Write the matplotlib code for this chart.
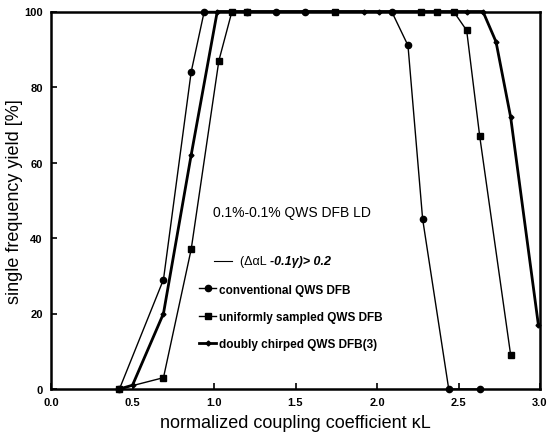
import matplotlib
matplotlib.use("Agg")
import matplotlib.pyplot as plt

plt.rcParams['font.family'] = ['Liberation Sans', 'DejaVu Sans']

# conventional QWS DFB
conv_x = [0.42, 0.69, 0.86, 0.94, 1.20, 1.38, 1.56, 2.09, 2.19, 2.28, 2.44, 2.63]
conv_y = [0, 29, 84, 100, 100, 100, 100, 100, 91, 45, 0, 0]
# uniformly sampled QWS DFB
unif_x = [0.42, 0.69, 0.86, 1.03, 1.11, 1.20, 1.74, 2.27, 2.37, 2.47, 2.55, 2.63, 2.82]
unif_y = [0, 3, 37, 87, 100, 100, 100, 100, 100, 100, 95, 67, 9]
# doubly chirped QWS DFB(3)
dc_x = [0.42, 0.50, 0.69, 0.86, 1.02, 1.92, 2.01, 2.55, 2.65, 2.73, 2.82, 2.99]
dc_y = [0, 1, 20, 62, 100, 100, 100, 100, 100, 92, 72, 17]

labels = ["conventional QWS DFB", "uniformly sampled QWS DFB", "doubly chirped QWS DFB(3)"]
xticks = [0.0, 0.5, 1.0, 1.5, 2.0, 2.5, 3.0]
yticks = [0, 20, 40, 60, 80, 100]

fig = plt.figure(figsize=(5.47, 4.39), dpi=100)
ax = fig.add_axes([51/547, 1 - 390/439, (540 - 51)/547, (390 - 12.5)/439])

l1, = ax.plot(conv_x, conv_y, color='black', lw=1.0, marker='o', ms=4.5, clip_on=False, zorder=3)
l2, = ax.plot(unif_x, unif_y, color='black', lw=1.0, marker='s', ms=5, clip_on=False, zorder=3)
l3, = ax.plot(dc_x, dc_y, color='black', lw=2.0, marker='D', ms=2.5, clip_on=False, zorder=3)

ax.set_xlim(0, 3.0)
ax.set_ylim(0, 100)
ax.set_xticks(xticks)
ax.set_yticks(yticks)
ax.set_xticklabels([f"{t:.1f}" for t in xticks], fontsize=8, fontweight='bold')
ax.set_yticklabels([str(t) for t in yticks], fontsize=8, fontweight='bold')
ax.tick_params(direction='in', length=4, width=1.2, pad=6)
for s in ax.spines.values():
    s.set_linewidth(1.8)

ax.set_xlabel("normalized coupling coefficient \u03baL", fontsize=13, labelpad=5)
ax.set_ylabel("single frequency yield [%]", fontsize=13, labelpad=1)

ax.text(213, 439 - 213, "0.1%-0.1% QWS DFB LD", transform=None, fontsize=10,
        ha='left', va='center')

# annotation line with text
ax.plot([1.0, 1.11], [34, 34], color='black', lw=0.8)
t1 = ax.text(1.16, 34, "(\u0394\u03b1L ", fontsize=9, ha='left', va='center')
fig.canvas.draw()
bb = t1.get_window_extent()
inv = ax.transData.inverted()
x_end = inv.transform((bb.x1, bb.y0))[0]
ax.text(x_end, 34, "-0.1\u03b3)> 0.2", fontsize=9, ha='left', va='center',
        fontweight='bold', fontstyle='italic')

leg = ax.legend([l1, l2, l3], labels, loc='upper left', bbox_to_anchor=(0.29, 0.295),
                frameon=False, prop={'weight': 'bold', 'size': 8.5},
                handlelength=1.5, handletextpad=0.2, labelspacing=1.3, borderpad=0)

fig.savefig("out.png", dpi=100)
